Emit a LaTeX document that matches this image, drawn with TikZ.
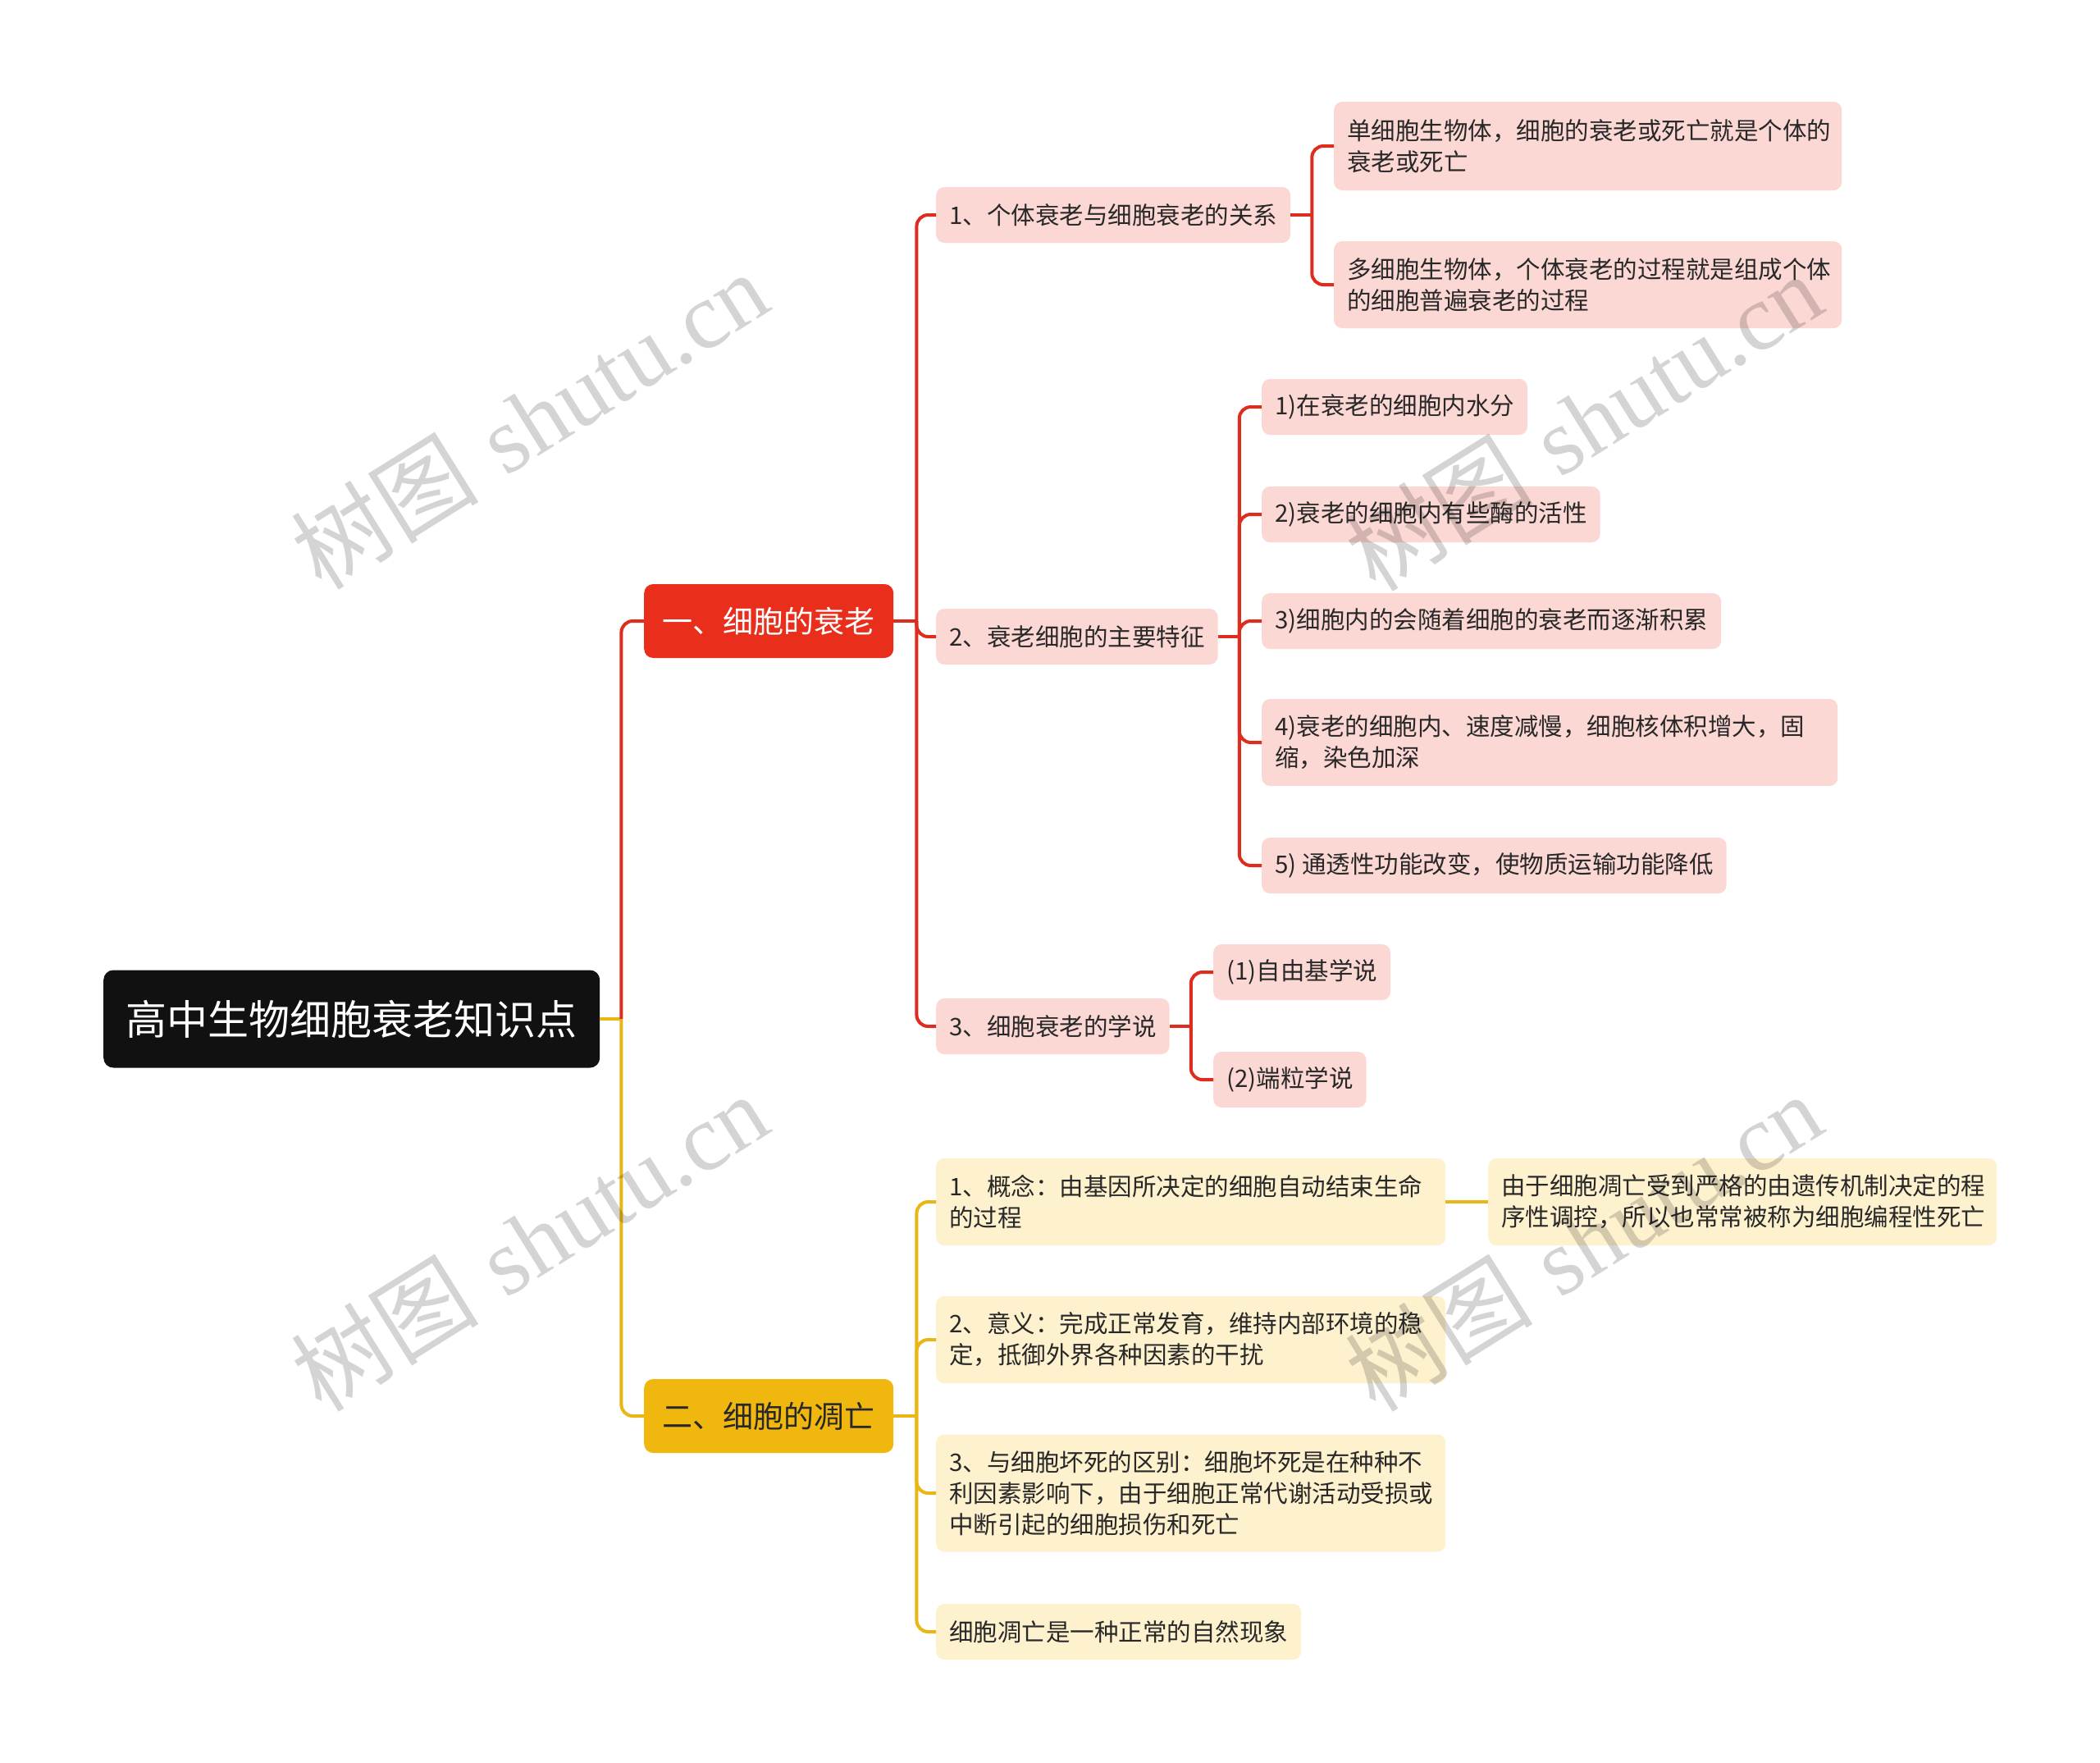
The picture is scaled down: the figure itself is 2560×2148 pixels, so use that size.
\documentclass[tikz,border=0pt]{standalone}
\usepackage{fontspec}
\newfontfamily\cjk{Noto Sans CJK SC}
\newfontfamily\wmserif{Liberation Serif}
\definecolor{rootc}{RGB}{17,17,17}
\definecolor{redc}{RGB}{234,46,28}
\definecolor{yelc}{RGB}{240,183,14}
\definecolor{pinkc}{RGB}{252,216,212}
\definecolor{creamc}{RGB}{254,241,206}
\definecolor{rlinec}{RGB}{222,44,30}
\definecolor{ylinec}{RGB}{234,182,20}
\definecolor{txtc}{RGB}{40,40,40}
\tikzset{
  rootbox/.style={fill=rootc, rounded corners=12, text=white, font=\cjk\fontsize{50}{60}\selectfont, minimum width=605, minimum height=119, anchor=west, inner sep=0},
  lonebox/.style={rounded corners=11, font=\cjk\fontsize{37}{44}\selectfont, minimum width=304, minimum height=90, anchor=west, inner sep=0},
  redtop/.style={lonebox, fill=redc, text=white},
  yeltop/.style={lonebox, fill=yelc, text=txtc},
  leaf/.style={rounded corners=10, text=txtc, font=\cjk\fontsize{29.5}{38}\selectfont, anchor=west, inner xsep=16, inner ysep=0, minimum height=68, align=left},
  pinkbox/.style={leaf, fill=pinkc},
  creambox/.style={leaf, fill=creamc},
  rline/.style={draw=rlinec, line width=4, rounded corners=14},
  yline/.style={draw=ylinec, line width=4, rounded corners=14},
  wmark/.style={text=black, text opacity=0.17, rotate=32, font=\fontsize{115}{120}\selectfont}
}
\begin{document}
\begin{tikzpicture}[x=1pt,y=-1pt]
\useasboundingbox[fill=white] (0,0) rectangle (2560,2148);

% root and main branches
\node[rootbox] (root) at (126,1242) {高中生物细胞衰老知识点};
\node[redtop] (a) at (785,757) {一、细胞的衰老};
\node[yeltop] (b) at (785,1726) {二、细胞的凋亡};

% red branch, level 2
\node[pinkbox] (a1) at (1141,262) {1、个体衰老与细胞衰老的关系};
\node[pinkbox] (a2) at (1141,776) {2、衰老细胞的主要特征};
\node[pinkbox] (a3) at (1141,1251) {3、细胞衰老的学说};

% red branch, level 3
\node[pinkbox, text width=587, minimum height=108] (a11) at (1626,178) {单细胞生物体，细胞的衰老或死亡就是个体的\\衰老或死亡};
\node[pinkbox, text width=587, minimum height=106] (a12) at (1626,347) {多细胞生物体，个体衰老的过程就是组成个体\\的细胞普遍衰老的过程};

\node[pinkbox] (a21) at (1538,496) {1)在衰老的细胞内水分};
\node[pinkbox] (a22) at (1538,627) {2)衰老的细胞内有些酶的活性};
\node[pinkbox] (a23) at (1538,757) {3)细胞内的会随着细胞的衰老而逐渐积累};
\node[pinkbox, text width=670, minimum height=106] (a24) at (1538,905) {4)衰老的细胞内、速度减慢，细胞核体积增大，固\\缩，染色加深};
\node[pinkbox] (a25) at (1538,1055) {5) 通透性功能改变，使物质运输功能降低};

\node[pinkbox] (a31) at (1479,1185) {(1)自由基学说};
\node[pinkbox] (a32) at (1479,1316) {(2)端粒学说};

% yellow branch
\node[creambox, text width=589, minimum height=106] (b1) at (1141,1465) {1、概念：由基因所决定的细胞自动结束生命\\的过程};
\node[creambox, text width=589, minimum height=106] (b2) at (1141,1633) {2、意义：完成正常发育，维持内部环境的稳\\定，抵御外界各种因素的干扰};
\node[creambox, text width=589, minimum height=143] (b3) at (1141,1820) {3、与细胞坏死的区别：细胞坏死是在种种不\\利因素影响下，由于细胞正常代谢活动受损或\\中断引起的细胞损伤和死亡};
\node[creambox] (b4) at (1141,1989) {细胞凋亡是一种正常的自然现象};
\node[creambox, text width=588, minimum height=106] (b11) at (1814,1465) {由于细胞凋亡受到严格的由遗传机制决定的程\\序性调控，所以也常常被称为细胞编程性死亡};

% connectors: root
\draw[yline] (root.east) -- ++(26,0) coordinate (rt);
\draw[rline] (rt) |- (a.west);
\draw[yline] (rt) |- (b.west);

% connectors: red branch
\draw[rline] (a.east) -- ++(28,0) coordinate (ta);
\draw[rline] (ta) |- (a1.west);
\draw[rline] (ta) |- (a2.west);
\draw[rline] (ta) |- (a3.west);

\draw[rline] (a1.east) -- ++(26,0) coordinate (ta1);
\draw[rline] (ta1) |- (a11.west);
\draw[rline] (ta1) |- (a12.west);

\draw[rline] (a2.east) -- ++(26,0) coordinate (ta2);
\draw[rline] (ta2) |- (a21.west);
\draw[rline] (ta2) |- (a22.west);
\draw[rline] (ta2) |- (a23.west);
\draw[rline] (ta2) |- (a24.west);
\draw[rline] (ta2) |- (a25.west);

\draw[rline] (a3.east) -- ++(26,0) coordinate (ta3);
\draw[rline] (ta3) |- (a31.west);
\draw[rline] (ta3) |- (a32.west);

% connectors: yellow branch
\draw[yline] (b.east) -- ++(28,0) coordinate (tb);
\draw[yline] (tb) |- (b1.west);
\draw[yline] (tb) |- (b2.west);
\draw[yline] (tb) |- (b3.west);
\draw[yline] (tb) |- (b4.west);
\draw[yline] (b1.east) -- (b11.west);

% watermarks
\node[wmark] (w1) at (645,512) {{\cjk 树图} {\wmserif shutu.cn}};
\node[wmark] (w2) at (1930,514) {{\cjk 树图} {\wmserif shutu.cn}};
\node[wmark] (w3) at (645,1514) {{\cjk 树图} {\wmserif shutu.cn}};
\node[wmark] (w4) at (1930,1514) {{\cjk 树图} {\wmserif shutu.cn}};
\end{tikzpicture}
\end{document}
